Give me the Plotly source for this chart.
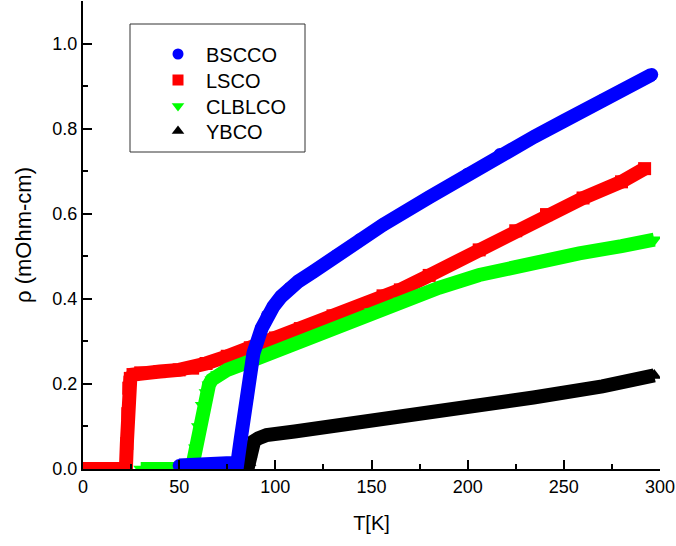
import plotly.graph_objects as go

# ---- data ----
T_bscco = [50, 60, 70, 78, 80.3, 82, 85.1, 88.6, 92.9, 95.8, 99.0, 103, 107.6, 112, 119.8, 132, 144, 156, 180, 200, 216.8, 235, 250, 270, 295.7]
rho_bscco = [0.008, 0.008, 0.008, 0.008, 0.015, 0.07, 0.166, 0.272, 0.331, 0.36, 0.382, 0.405, 0.425, 0.441, 0.464, 0.502, 0.539, 0.574, 0.639, 0.693, 0.739, 0.782, 0.818, 0.866, 0.927]

T_lsco = [0, 10, 20, 22.3, 22.8, 23.3, 23.8, 24.6, 26, 30, 40, 50, 57, 64, 75, 87, 100, 113, 130, 156, 165, 180, 206, 225, 241, 260, 280, 292]
rho_lsco = [0, 0, 0, 0.0, 0.06, 0.13, 0.19, 0.213, 0.222, 0.226, 0.229, 0.233, 0.237, 0.248, 0.265, 0.285, 0.308, 0.33, 0.36, 0.407, 0.421, 0.455, 0.515, 0.56, 0.598, 0.637, 0.675, 0.706]

T_clblco = [30, 40, 50, 55, 57, 58.5, 60, 62, 64, 65.5, 67, 70, 75, 85, 100, 113, 130, 150, 165, 185, 206, 230, 258, 280, 297]
rho_clblco = [0, 0, 0, 0, 0.01, 0.05, 0.1, 0.15, 0.18, 0.198, 0.21, 0.222, 0.233, 0.25, 0.277, 0.30, 0.33, 0.37, 0.395, 0.426, 0.456, 0.482, 0.507, 0.524, 0.539]

T_ybco = [85.5, 86.3, 86.8, 87.5, 89, 91.2, 95.5, 110, 130, 164.8, 200, 234.2, 270, 297]
rho_ybco = [0, 0.015, 0.035, 0.055, 0.066, 0.072, 0.08, 0.088, 0.1, 0.122, 0.146, 0.168, 0.194, 0.22]

names = ["BSCCO", "LSCO", "CLBLCO", "YBCO"]
colors = ["#0000FF", "#FF0000", "#00FF00", "#000000"]
symbols = ["circle", "square", "triangle-down", "triangle-up"]

series = {
    "BSCCO": (T_bscco, rho_bscco),
    "LSCO": (T_lsco, rho_lsco),
    "CLBLCO": (T_clblco, rho_clblco),
    "YBCO": (T_ybco, rho_ybco),
}

FONT = "Arial, 'Liberation Sans', sans-serif"
fig = go.Figure()

draw_order = ["LSCO", "CLBLCO", "YBCO", "BSCCO"]
for nm in draw_order:
    i = names.index(nm)
    x, y = series[nm]
    fig.add_trace(go.Scatter(
        x=x, y=y, mode="lines+markers", name=nm, showlegend=False,
        line=dict(color=colors[i], width=14),
        marker=dict(color=colors[i], symbol=symbols[i], size=13),
    ))

# legend entries (symbol only), one legend per row
legend_ids = ["legend", "legend2", "legend3", "legend4"]
row_px = [54, 80, 106, 131]
for i, nm in enumerate(names):
    fig.add_trace(go.Scatter(
        x=[None], y=[None], mode="markers", name=nm, legend=legend_ids[i],
        marker=dict(color=colors[i], symbol=symbols[i], size=11),
    ))

fig.add_shape(type="rect", xref="paper", yref="paper",
              x0=(130 - 83) / 577, x1=(305 - 83) / 577,
              y0=(469 - 152) / 468, y1=(469 - 24) / 468,
              line=dict(color="#333333", width=1), fillcolor="rgba(0,0,0,0)")

axis_common = dict(
    showline=True, linecolor="black", linewidth=2,
    ticks="inside", ticklen=9, tickwidth=1.5, tickcolor="black",
    showgrid=False, zeroline=False, mirror=False,
    tickfont=dict(family=FONT, size=18, color="black"),
)

fig.update_xaxes(range=[0, 300], dtick=50, tick0=0,
                 minor=dict(dtick=25, ticklen=5, tickwidth=1.5, tickcolor="black", ticks="inside"),
                 title=dict(text="T[K]", font=dict(family=FONT, size=20, color="black"), standoff=20),
                 **axis_common)
fig.update_yaxes(range=[0, 1.1], dtick=0.2, tick0=0, tickformat=".1f",
                 minor=dict(dtick=0.1, ticklen=5, tickwidth=1.5, tickcolor="black", ticks="inside"),
                 title=dict(text="ρ (mOhm-cm)", font=dict(family=FONT, size=22, color="black"), standoff=15),
                 **axis_common)

layout_legends = {}
for lid, ry in zip(legend_ids, row_px):
    layout_legends[lid] = dict(
        x=(150 - 83) / 577, y=(469 - ry) / 468, xanchor="left", yanchor="middle",
        bgcolor="rgba(0,0,0,0)", borderwidth=0, itemwidth=46,
        font=dict(family=FONT, size=20, color="black"))

fig.update_layout(
    width=676, height=546,
    margin=dict(l=83, r=16, t=1, b=77),
    plot_bgcolor="white", paper_bgcolor="white",
    font=dict(family=FONT, color="black"),
    **layout_legends,
)

fig.write_html("out.html")
